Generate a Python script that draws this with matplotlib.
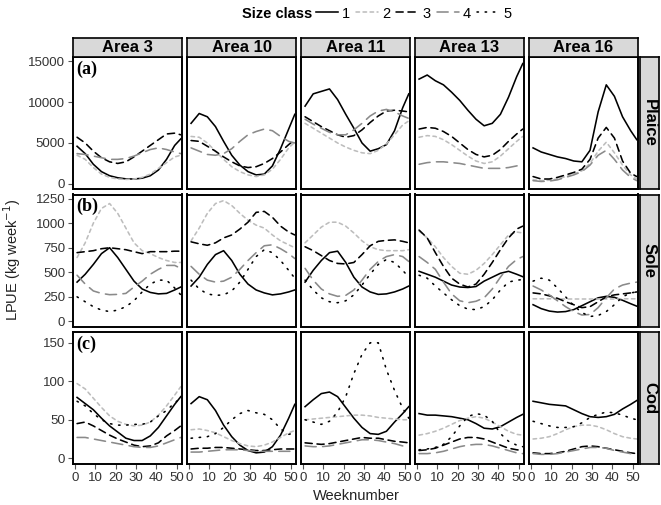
import matplotlib
matplotlib.use("Agg")
import matplotlib.pyplot as plt

plt.rcParams['font.family'] = ['Liberation Sans', 'DejaVu Sans']

weeks = [1, 5, 9, 13, 17, 21, 25, 29, 33, 37, 41, 45, 49, 52]
areas = ["Area 3", "Area 10", "Area 11", "Area 13", "Area 16"]
species = ["Plaice", "Sole", "Cod"]
size_classes = ["1", "2", "3", "4", "5"]

# plaice, size classes 1-4 (no class 5)
plaice_a3 = [[4600, 3700, 2400, 1500, 1000, 750, 620, 600, 700, 1000, 1700, 3000, 4700, 5500],
             [3500, 3000, 2000, 1200, 800, 600, 550, 600, 800, 1200, 1900, 2600, 3300, 3500],
             [5700, 5000, 4000, 3200, 2700, 2500, 2700, 3300, 4000, 4700, 5400, 6100, 6200, 6000],
             [3700, 3600, 3400, 3200, 3000, 3000, 3100, 3400, 3800, 4200, 4400, 4200, 3900, 3700],
             None]
plaice_a10 = [[7400, 8600, 8200, 7000, 5200, 3500, 2300, 1500, 1100, 1200, 2200, 4300, 6700, 8500],
              [5800, 5700, 5000, 4000, 3000, 2100, 1500, 1100, 900, 1100, 1800, 3000, 4400, 5100],
              [5300, 5200, 4600, 4000, 3300, 2700, 2200, 2000, 2100, 2500, 3100, 3900, 4800, 5400],
              [4400, 4000, 3600, 3500, 3700, 4300, 5200, 6000, 6400, 6700, 6500, 5800, 5200, 5000],
              None]
plaice_a11 = [[9500, 11000, 11300, 11600, 10300, 8500, 6800, 5000, 4000, 4300, 4800, 6500, 9300, 11000],
              [7400, 6800, 6200, 5600, 5000, 4500, 4100, 3800, 3700, 4100, 4900, 6000, 7200, 7700],
              [8200, 7600, 7000, 6500, 6000, 5700, 5900, 6600, 7500, 8300, 8900, 9000, 8900, 8800],
              [7900, 7300, 6800, 6300, 6000, 6000, 6600, 7400, 8300, 8900, 9100, 8800, 8300, 8000],
              None]
plaice_a13 = [[12800, 13300, 12600, 12100, 11200, 10200, 9000, 7900, 7100, 7400, 8500, 10600, 13100, 14700],
              [5700, 5900, 5800, 5400, 4800, 4100, 3400, 2800, 2500, 2700, 3400, 4300, 5200, 5800],
              [6700, 6900, 6800, 6400, 5800, 5000, 4200, 3600, 3300, 3500, 4200, 5200, 6100, 6700],
              [2400, 2600, 2700, 2700, 2600, 2500, 2300, 2100, 1900, 1900, 1900, 2000, 2200, 2300],
              None]
plaice_a16 = [[4400, 3900, 3600, 3300, 3100, 2800, 2700, 4100, 8800, 12100, 10700, 8200, 6500, 5400],
              [500, 400, 450, 600, 900, 1200, 1600, 2500, 4000, 5100, 3800, 2300, 1100, 600],
              [900, 600, 600, 800, 1100, 1400, 1800, 3000, 5600, 6900, 5600, 2800, 1300, 900],
              [400, 300, 350, 500, 800, 1100, 1500, 2300, 3500, 4100, 3000, 1700, 800, 400],
              None]

# sole, size classes 1-5
sole_a3 = [[400, 480, 580, 690, 750, 650, 530, 410, 330, 295, 280, 285, 320, 350],
           [650, 800, 1000, 1150, 1200, 1100, 950, 800, 720, 690, 650, 620, 600, 600],
           [700, 710, 720, 740, 750, 740, 730, 710, 690, 710, 710, 710, 715, 715],
           [470, 380, 310, 285, 272, 275, 285, 350, 410, 480, 530, 570, 570, 540],
           [250, 200, 150, 115, 100, 115, 150, 210, 300, 380, 420, 420, 340, 270]]
sole_a10 = [[360, 450, 580, 680, 720, 620, 480, 380, 320, 290, 270, 280, 300, 320],
            [820, 950, 1100, 1200, 1230, 1180, 1100, 1030, 980, 950, 880, 820, 780, 750],
            [810, 790, 775, 800, 850, 880, 940, 1010, 1110, 1120, 1060, 970, 910, 880],
            [560, 480, 420, 400, 410, 450, 530, 620, 700, 770, 780, 740, 690, 640],
            [420, 330, 280, 265, 270, 310, 400, 530, 660, 730, 700, 620, 520, 440]]
sole_a11 = [[400, 520, 620, 700, 715, 600, 450, 350, 300, 275, 280, 300, 330, 360],
            [800, 880, 960, 1010, 1010, 970, 900, 820, 760, 730, 720, 720, 720, 730],
            [760, 720, 670, 620, 590, 585, 600, 680, 770, 815, 825, 830, 815, 800],
            [540, 420, 330, 280, 255, 265, 320, 420, 530, 610, 660, 680, 660, 610],
            [420, 320, 240, 200, 190, 210, 270, 370, 480, 580, 630, 600, 520, 450]]
sole_a13 = [[510, 480, 450, 410, 370, 350, 345, 355, 410, 450, 490, 510, 480, 455],
            [920, 850, 760, 650, 560, 490, 480, 520, 590, 680, 780, 880, 910, 900],
            [930, 850, 700, 560, 440, 380, 350, 380, 480, 600, 730, 850, 940, 970],
            [660, 600, 530, 400, 280, 210, 190, 205, 240, 330, 450, 560, 630, 660],
            [470, 440, 360, 290, 220, 160, 125, 120, 150, 220, 320, 400, 420, 425]]
sole_a16 = [[170, 130, 105, 95, 100, 120, 160, 200, 240, 255, 245, 215, 180, 155],
            [230, 230, 230, 230, 228, 228, 228, 228, 228, 228, 228, 230, 230, 230],
            [290, 280, 260, 235, 200, 170, 140, 150, 200, 250, 270, 280, 290, 300],
            [360, 320, 270, 210, 150, 100, 65, 70, 140, 240, 330, 370, 390, 400],
            [410, 440, 420, 340, 250, 160, 90, 50, 60, 100, 170, 250, 290, 300]]

# cod, size classes 1-5
cod_a3 = [[79, 71, 63, 52, 42, 34, 26, 23, 23, 29, 40, 55, 70, 80],
          [97, 90, 78, 66, 55, 48, 44, 42, 43, 47, 56, 68, 82, 93],
          [45, 47, 42, 36, 30, 25, 21, 17, 15, 16, 20, 29, 36, 42],
          [27, 27, 25, 23, 21, 19, 17, 15, 14, 14, 16, 20, 24, 27],
          [74, 68, 58, 50, 45, 43, 43, 44, 44, 47, 55, 62, 72, 78]]
cod_a10 = [[71, 80, 76, 62, 43, 28, 17, 10, 7, 8, 15, 30, 52, 70],
           [37, 38, 36, 33, 28, 23, 19, 16, 15, 17, 21, 27, 33, 36],
           [12, 13, 13, 14, 14, 13, 12, 11, 10, 10, 11, 12, 12, 12],
           [8, 8, 9, 10, 11, 11, 11, 10, 9, 9, 9, 9, 9, 9],
           [26, 27, 28, 32, 40, 50, 58, 62, 59, 57, 50, 38, 31, 33]]
cod_a11 = [[67, 76, 84, 86, 80, 66, 52, 40, 32, 31, 35, 47, 58, 67],
           [50, 51, 52, 53, 54, 55, 56, 56, 55, 53, 52, 51, 50, 50],
           [20, 19, 18, 19, 21, 23, 25, 27, 26, 26, 24, 22, 21, 20],
           [16, 15, 15, 16, 18, 20, 22, 24, 24, 23, 21, 19, 16, 15],
           [50, 47, 44, 48, 60, 80, 110, 135, 150, 150, 115, 88, 65, 52]]
cod_a13 = [[58, 56, 56, 55, 54, 52, 50, 45, 39, 38, 41, 47, 53, 57],
           [30, 32, 35, 39, 44, 49, 52, 54, 52, 47, 41, 35, 31, 30],
           [10, 11, 13, 17, 21, 25, 27, 27, 25, 21, 17, 13, 11, 10],
           [6, 6, 7, 9, 12, 15, 17, 18, 18, 16, 13, 10, 7, 6],
           [11, 12, 14, 18, 28, 42, 54, 58, 56, 48, 32, 22, 17, 15]]
cod_a16 = [[74, 72, 70, 69, 68, 63, 58, 54, 53, 54, 57, 64, 70, 75],
           [25, 26, 28, 32, 37, 41, 43, 43, 41, 37, 32, 28, 26, 25],
           [7, 6, 6, 7, 9, 12, 15, 16, 15, 13, 11, 9, 7, 6],
           [6, 5, 5, 6, 8, 10, 12, 14, 14, 13, 10, 8, 6, 5],
           [48, 45, 42, 40, 40, 41, 46, 53, 57, 60, 59, 56, 52, 50]]

panels = [[plaice_a3, plaice_a10, plaice_a11, plaice_a13, plaice_a16],
          [sole_a3, sole_a10, sole_a11, sole_a13, sole_a16],
          [cod_a3, cod_a10, cod_a11, cod_a13, cod_a16]]

yticks = [[0, 5000, 10000, 15000], [0, 250, 500, 750, 1000, 1250], [0, 50, 100, 150]]
ylims = [(-620, 15500), (-52, 1292), (-7.5, 164)]
row_tags = ["(a)", "(b)", "(c)"]

# line styles per size class
styles = [dict(color='black', ls='-'),
          dict(color='#BDBDBD', ls=(0, (2.2, 2.2))),
          dict(color='black', ls=(0, (4.5, 3))),
          dict(color='#8A8A8A', ls=(0, (7, 4))),
          dict(color='black', ls=(0, (0.9, 4.2)))]

W, H = 661, 505
fig = plt.figure(figsize=(W / 100, H / 100), dpi=100)


def px_axes(x, y, w, h):
    return fig.add_axes([x / W, 1 - (y + h) / H, w / W, h / H])


col_x = [73, 187, 301, 415, 529]
row_y = [57, 194.5, 332]
pw, ph = 109, 132
handles = []

for r in range(3):
    for c in range(5):
        ax = px_axes(col_x[c], row_y[r], pw, ph)
        for k, series in enumerate(panels[r][c]):
            if series is None:
                continue
            ln, = ax.plot(weeks, series, lw=1.15, dash_capstyle='round', **styles[k])
            if r == 1 and c == 0:
                handles.append(ln)
        ax.set_xlim(-1, 52.6)
        ax.set_ylim(*ylims[r])
        ax.set_xticks([0, 10, 20, 30, 40, 50])
        ax.set_yticks(yticks[r])
        ax.tick_params(length=3.5, width=0.8, color='#555555', labelcolor='#333333',
                       labelsize=9.5, pad=2)
        if c != 0:
            ax.tick_params(left=False, labelleft=False)
        if r != 2:
            ax.tick_params(bottom=False, labelbottom=False)
        for sp in ax.spines.values():
            sp.set_linewidth(1.4)
        if c == 0:
            ax.text(0.03, 0.975, row_tags[r], transform=ax.transAxes, ha='left', va='top',
                    fontsize=13, fontweight='bold', family='Liberation Serif')

# top strips
for c in range(5):
    s = px_axes(col_x[c], 37.5, pw, 19)
    s.set_facecolor('#D9D9D9')
    s.set_xticks([]); s.set_yticks([])
    for sp in s.spines.values():
        sp.set_linewidth(1.2)
    s.text(0.5, 0.45, areas[c], ha='center', va='center', fontsize=12, fontweight='bold')

# right strips
for r in range(3):
    s = px_axes(640, row_y[r], 19, ph)
    s.set_facecolor('#D9D9D9')
    s.set_xticks([]); s.set_yticks([])
    for sp in s.spines.values():
        sp.set_linewidth(1.2)
    s.text(0.5, 0.5, species[r], ha='center', va='center', rotation=-90,
           fontsize=12, fontweight='bold')

fig.text(12 / W, 1 - 260 / H, 'LPUE (kg week$^{-1}$)', rotation=90, ha='center', va='center',
         fontsize=10.5, color='#222222')
fig.text(356 / W, 1 - 496 / H, 'Weeknumber', ha='center', va='center', fontsize=10.5,
         color='#222222')

fig.text(312 / W, 1 - 13.5 / H, 'Size class', ha='right', va='center', fontsize=10.5,
         fontweight='bold')
fig.legend(handles, size_classes, loc='center left', bbox_to_anchor=(316 / W, 1 - 13.5 / H),
           ncol=5, frameon=False, fontsize=10.5, handlelength=1.5, handletextpad=0.3,
           columnspacing=0.4, borderpad=0, borderaxespad=0)

fig.savefig('out.png', dpi=100)
